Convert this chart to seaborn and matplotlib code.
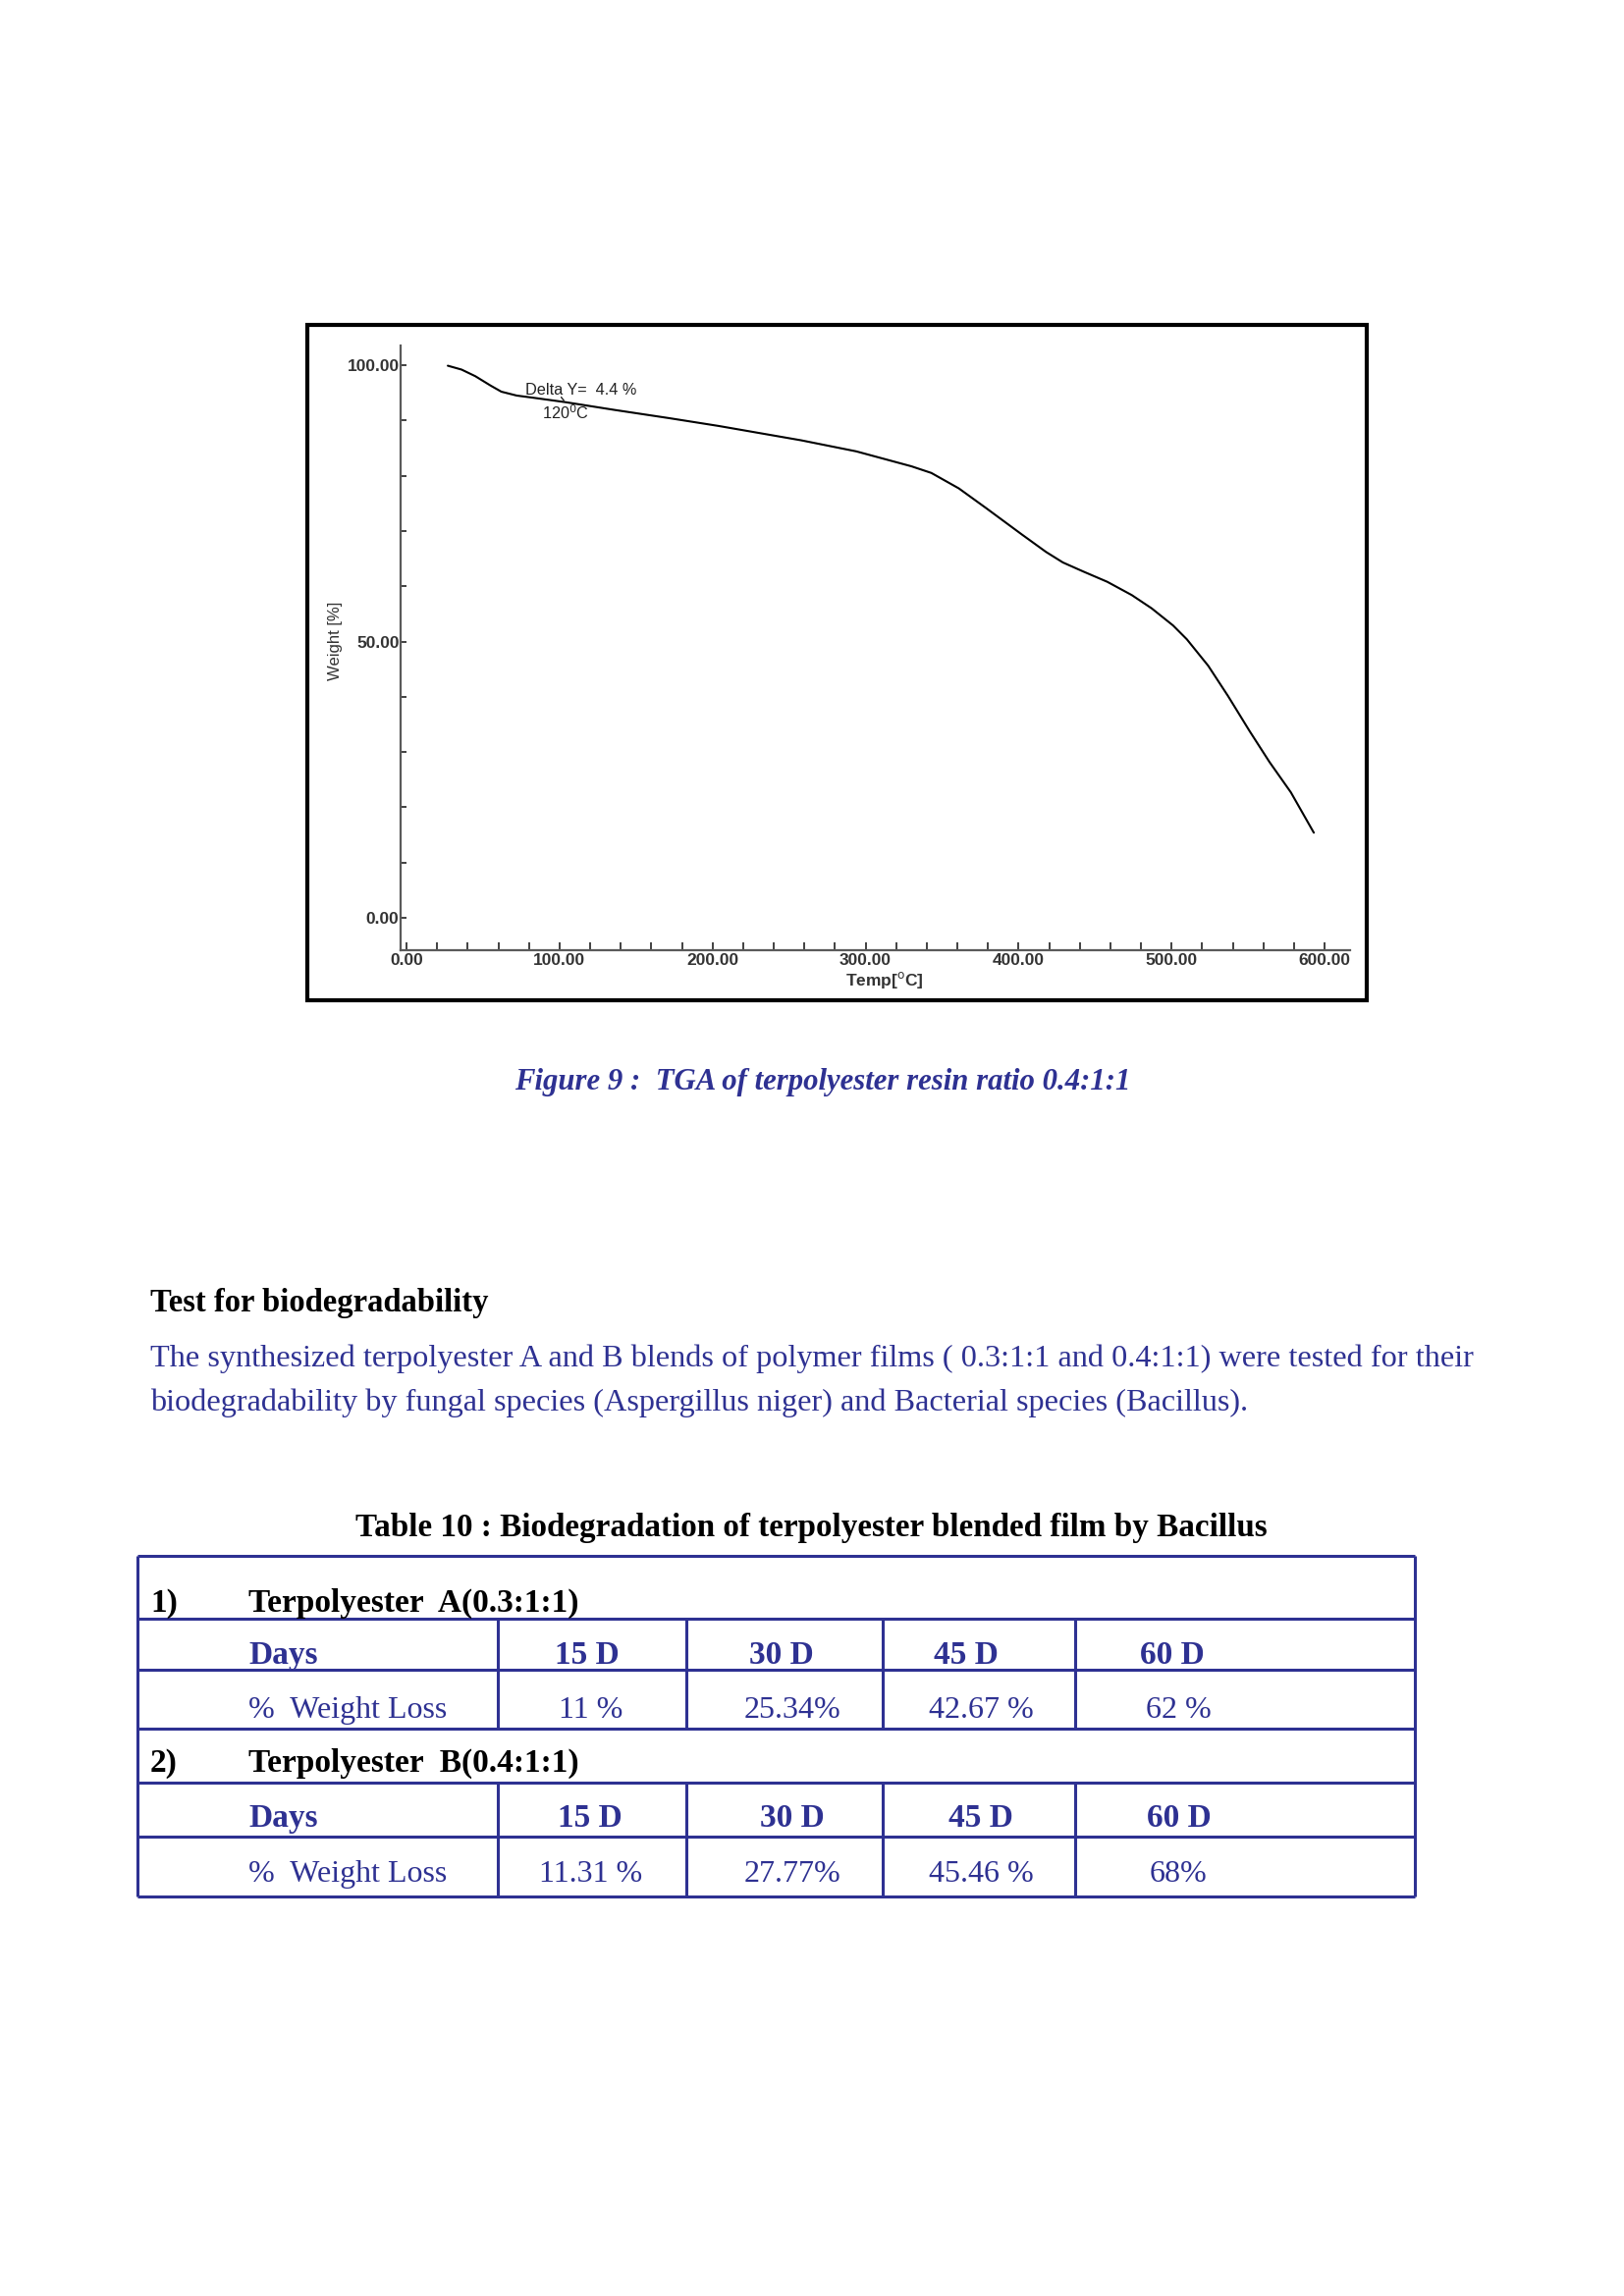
import numpy as np
import pandas as pd
import matplotlib
matplotlib.use("Agg")
import matplotlib.pyplot as plt
import seaborn as sns
from matplotlib.patches import Rectangle
from matplotlib.ticker import MultipleLocator, FormatStrFormatter

# ---------------- data ----------------
temp_c = [27, 36, 45, 55, 62, 72, 83, 104, 136, 172, 204, 231, 258, 294, 330,
          343, 361, 379, 402, 418, 429, 442, 458, 474, 487, 501, 510, 524,
          537, 551, 564, 578, 593]
weight_pct = [99.9, 99.2, 98.0, 96.3, 95.2, 94.5, 94.1, 93.3, 91.9, 90.4, 89.0,
              87.7, 86.4, 84.4, 81.7, 80.5, 77.7, 74.1, 69.4, 66.2, 64.3, 62.7,
              60.8, 58.4, 56.0, 52.9, 50.4, 45.6, 40.1, 33.8, 28.2, 22.7, 15.4]

days_labels = ["15 D", "30 D", "45 D", "60 D"]
loss_a = ["11 %", "25.34%", "42.67 %", "62 %"]
loss_b = ["11.31 %", "27.77%", "45.46 %", "68%"]
resin_names = ["Terpolyester  A(0.3:1:1)", "Terpolyester  B(0.4:1:1)"]
resin_nums = ["1)", "2)"]

NAVY = "#2E3192"
W, H = 1654, 2339

sns.set_style("ticks")
plt.rcParams["font.family"] = ["Liberation Sans", "DejaVu Sans"]

fig = plt.figure(figsize=(W / 100, H / 100), dpi=100)
fig.patch.set_facecolor("white")

# ---------------- chart axes (pixel placement) ----------------
x0_px, x600_px = 414.0, 1349.0
y0_px, y100_px = 935.0, 372.0
sx = (x600_px - x0_px) / 600.0
sy = (y0_px - y100_px) / 100.0
xlim = (-3.9, 617.0)
ylim = (-5.9, 103.6)
left_px = x0_px + xlim[0] * sx
right_px = x0_px + xlim[1] * sx
bot_px = y0_px - ylim[0] * sy
top_px = y0_px - ylim[1] * sy
ax_w = right_px - left_px
ax_h = bot_px - top_px
ax = fig.add_axes([left_px / W, 1 - bot_px / H, ax_w / W, ax_h / H])

df = pd.DataFrame({"Temp": temp_c, "Weight": weight_pct})
sns.lineplot(data=df, x="Temp", y="Weight", ax=ax, color="black", lw=1.5,
             estimator=None, sort=False)
ax.set_xlim(*xlim)
ax.set_ylim(*ylim)
for s in ["top", "right"]:
    ax.spines[s].set_visible(False)
for s in ["left", "bottom"]:
    ax.spines[s].set_color("#5a5a5a")
    ax.spines[s].set_linewidth(1.6)
ax.xaxis.set_major_locator(MultipleLocator(100))
ax.xaxis.set_minor_locator(MultipleLocator(20))
ax.yaxis.set_major_locator(MultipleLocator(50))
ax.yaxis.set_minor_locator(MultipleLocator(10))
ax.xaxis.set_major_formatter(FormatStrFormatter("%.2f"))
ax.yaxis.set_major_formatter(FormatStrFormatter("%.2f"))
ax.tick_params(axis="both", which="both", direction="in", color="#333333",
               width=1.3, labelsize=12.5, labelcolor="#333333")
ax.tick_params(axis="x", which="both", length=6, pad=2)
ax.tick_params(axis="y", which="both", length=4, pad=1)
for lab in ax.get_xticklabels() + ax.get_yticklabels():
    lab.set_fontweight("bold")
ax.set_xlabel(r"Temp[$^{\mathrm{o}}$C]", fontsize=12.5, fontweight="bold",
              color="#333333")
ax.xaxis.set_label_coords((900.7 - left_px) / ax_w, (bot_px - 988) / ax_h)
ax.set_ylabel("Weight [%]", fontsize=12, color="#333333")
ax.yaxis.set_label_coords((348.7 - left_px) / ax_w, (bot_px - 652.6) / ax_h)
ax.text(77.6, 95.5, "Delta Y=  4.4 %", fontsize=11.7, color="#222222",
        va="center", ha="left")
ax.text(88.5, 91.3, r"120$^{\mathrm{0}}$C", fontsize=11.7, color="#222222",
        va="center", ha="left")
ax.annotate("", xy=(104, 93.2), xytext=(100, 94.6),
            arrowprops=dict(arrowstyle="-", lw=1.0, color="#222222"))

# ---------------- page overlay (pixel coordinates) ----------------
pg = fig.add_axes([0, 0, 1, 1])
pg.set_xlim(0, W)
pg.set_ylim(H, 0)
pg.set_axis_off()
pg.patch.set_visible(False)

pg.add_patch(Rectangle((313, 331), 1392 - 313, 1019 - 331, fill=False,
                       ec="black", lw=3.0))

serif = ["Liberation Serif", "DejaVu Serif"]
pg.text(838, 1110, "Figure 9 :  TGA of terpolyester resin ratio 0.4:1:1",
        family=serif, fontsize=22.15, fontweight="bold", fontstyle="italic",
        color=NAVY, ha="center", va="baseline")

pg.text(153, 1336, "Test for biodegradability", family=serif, fontsize=23.5,
        fontweight="bold", color="black", ha="left", va="baseline")
pg.text(153, 1392, "The synthesized terpolyester A and B blends of polymer films "
        "( 0.3:1:1 and 0.4:1:1) were tested for their", family=serif,
        fontsize=23.2, color=NAVY, ha="left", va="baseline")
pg.text(153, 1437, "biodegradability by fungal species (Aspergillus niger) and "
        "Bacterial species (Bacillus).", family=serif, fontsize=23.2,
        color=NAVY, ha="left", va="baseline")

pg.text(826, 1565, "Table 10 : Biodegradation of terpolyester blended film by Bacillus",
        family=serif, fontsize=23.9, fontweight="bold", color="black",
        ha="center", va="baseline")

# table grid
t_left, t_right = 139.5, 1441.0
row_y = [1585, 1649, 1701, 1761, 1816, 1871, 1932]
col_x = [506.6, 699.0, 898.5, 1095.0]
lw_t = 2.2
pg.hlines(row_y, t_left, t_right, color=NAVY, lw=lw_t)
pg.vlines([t_left, t_right], row_y[0], row_y[-1], color=NAVY, lw=lw_t)
pg.vlines(col_x, row_y[1], row_y[3], color=NAVY, lw=lw_t)
pg.vlines(col_x, row_y[4], row_y[6], color=NAVY, lw=lw_t)

days_x = [[598, 796, 984, 1194], [601, 807, 999, 1201]]
vals_x = [[602, 807, 999, 1200], [602, 807, 999, 1200]]
text_shift = [0, -4]
blocks = [(row_y[0], loss_a), (row_y[3], loss_b)]
for i, (ytop, losses) in enumerate(blocks):
    r1 = row_y[3 * i + 1]
    r2 = row_y[3 * i + 2]
    r3 = row_y[3 * i + 3]
    d = text_shift[i]
    pg.text(153, r1 - 7 + d, resin_nums[i], family=serif, fontsize=24,
            fontweight="bold", color="black", va="baseline")
    pg.text(253, r1 - 7 + d, resin_names[i], family=serif, fontsize=24,
            fontweight="bold", color="black", va="baseline")
    pg.text(253, r2 - 6 + d, "Days", family=serif, fontsize=24,
            fontweight="bold", color=NAVY, va="baseline")
    pg.text(253, r3 - 11 + d, "%  Weight Loss", family=serif, fontsize=23,
            color=NAVY, va="baseline")
    for j in range(4):
        pg.text(days_x[i][j], r2 - 6 + d, days_labels[j], family=serif,
                fontsize=24, fontweight="bold", color=NAVY, ha="center",
                va="baseline")
        pg.text(vals_x[i][j], r3 - 11 + d, losses[j], family=serif,
                fontsize=23, color=NAVY, ha="center", va="baseline")

fig.savefig("out.png", dpi=100, facecolor="white")
